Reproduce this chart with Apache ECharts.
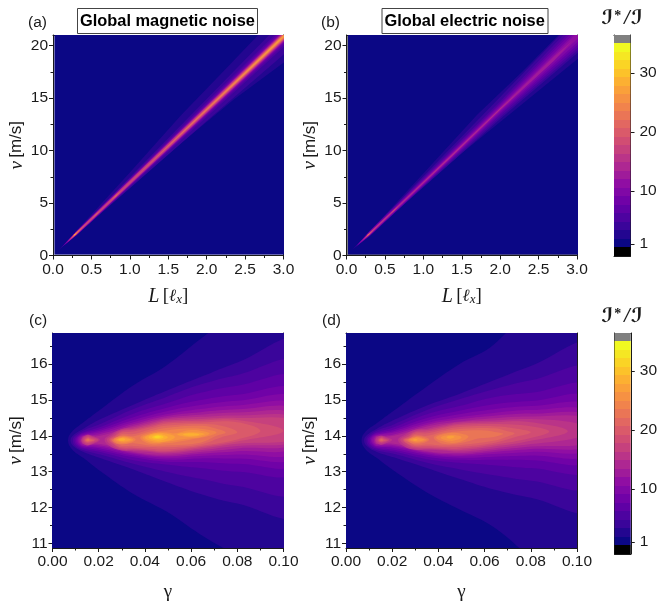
<!DOCTYPE html>
<html><head><meta charset="utf-8">
<style>html,body{margin:0;padding:0;background:#fff}#c{width:660px;height:603px}</style>
<script src="https://cdn.jsdelivr.net/npm/echarts@6/dist/echarts.min.js"></script>
</head><body><div id="c"></div>
<script>
// Colour levels of the filled contours (lowest band is the plot background)
const levelEdge0 = 0.45, levelEdge1 = 35;
const levelColors = ['#0b0785','#230690','#3a059a','#4d03a0','#5f01a5','#7002a7','#8008a6','#900ea3','#9f1b9a','#ae2792','#ba3488','#c6417d','#d14d73','#da5a6a','#e26761','#ea7556','#f1834c','#f69143','#faa03a','#fcb032','#fcc22a','#fad425','#f5e723','#f0f921'];
const belowColor = '#000000', aboveColor = '#808080';
const barTicks = [1,10,20,30];
const vTicksTop = [0,5,10,15,20], vMinorTop = [2.5,7.5,12.5,17.5];
const vTicksBottom = [11,12,13,14,15,16], vMinorBottom = [11.5,12.5,13.5,14.5,15.5,16.5];

// Panel (a): [band, outline in (L, v)]
const panelA = [
 [0,[[0.02,0.09],[3.2,0.09],[3.2,24],[0.02,24]]],
 [1,[[0.07,0.5],[0.5,3.9],[1,7.9],[1.66,13.3],[2.2,17.4],[2.67,21],[3.2,24.6],[3.2,19.6],[3,18.35],[2.35,14.83],[1.48,9.57],[1,6.5],[0.5,3.25]]],
 [2,[[0.08,0.56],[1,7.45],[2,14.9],[3.2,23.9],[3.2,20.4],[2,12.8],[1,6.4]]],
 [3,[[0.12,0.83],[0.3,2.3],[3.2,23.31],[3.2,21.17],[0.3,1.87]]],
 [4,[[0.13,0.9],[0.3,2.27],[3.2,23.09],[3.2,21.39],[0.3,1.9]]],
 [5,[[0.14,0.97],[0.3,2.25],[3.2,22.93],[3.2,21.55],[0.3,1.92]]],
 [6,[[0.15,1.04],[0.3,2.23],[3.2,22.84],[3.2,21.64],[0.3,1.94]]],
 [7,[[0.16,1.11],[0.3,2.21],[3.2,22.77],[3.2,21.71],[0.3,1.96]]],
 [8,[[0.18,1.25],[0.3,2.2],[3.2,22.72],[3.2,21.76],[0.3,1.97]]],
 [9,[[0.19,1.32],[0.3,2.19],[3.2,22.68],[3.2,21.8],[0.3,1.98]]],
 [10,[[0.2,1.39],[0.3,2.18],[3.2,22.63],[3.2,21.85],[0.3,1.99]]],
 [11,[[0.21,1.46],[0.3,2.17],[0.7,4.94],[3.2,22.59],[3.2,21.89],[0.7,4.79],[0.3,2.0]]],
 [12,[[0.22,1.53],[0.3,2.16],[0.48,3.38],[0.3,2.01]]],
 [12,[[0.72,5.0],[0.82,5.78],[0.92,6.39],[0.82,5.62]]],
 [12,[[0.95,6.6],[3.2,22.56],[3.2,21.92]]],
 [13,[[1.1,7.64],[3.2,22.53],[3.2,21.95]]],
 [13,[[0.23,1.6],[0.3,2.15],[0.42,2.95],[0.3,2.02]]],
 [14,[[1.35,9.38],[3.2,22.5],[3.2,21.98]]],
 [14,[[0.24,1.67],[0.3,2.14],[0.38,2.65],[0.3,2.03]]],
 [14,[[0.5,3.48],[0.56,3.95],[0.62,4.31],[0.56,3.85]]],
 [14,[[0.76,5.3],[0.82,5.75],[0.88,6.1],[0.82,5.65]]],
 [15,[[1.6,11.12],[3.2,22.45],[3.2,22.03]]],
 [15,[[0.25,1.74],[0.28,2],[0.35,2.48],[0.3,2.05]]],
 [16,[[1.9,13.2],[3.2,22.4],[3.2,22.08]]],
 [17,[[2.2,15.29],[3.2,22.36],[3.2,22.12]]],
 [17,[[0.26,1.81],[0.28,2.02],[0.32,2.24],[0.29,1.98]]],
 [18,[[2.5,17.38],[3.2,22.31],[3.2,22.17]]],
 [19,[[0.27,1.87],[0.285,2.02],[0.305,2.12],[0.29,1.99]]]
];

// Panel (b): [band, outline in (L, v)]
const panelB = [
 [0,[[0.02,0.09],[3.2,0.09],[3.2,24],[0.02,24]]],
 [1,[[0.07,0.5],[0.5,3.85],[1,7.8],[1.7,13.4],[2.3,17.6],[2.76,21],[3.2,24.4],[3.2,19.9],[3,18.66],[2.4,15.1],[1.5,9.75],[1,6.55],[0.5,3.25]]],
 [2,[[0.08,0.56],[1,7.55],[2,15.1],[3.2,24.2],[3.2,20.5],[2,13.0],[1,6.5]]],
 [3,[[0.12,0.83],[0.3,2.33],[1,7.4],[2,14.7],[3.2,23.9],[3.2,20.75],[2,13.2],[1,6.6],[0.3,1.84]]],
 [4,[[0.13,0.9],[0.3,2.3],[1,7.28],[2,14.5],[3.2,23.5],[3.2,21.0],[2,13.4],[1,6.65],[0.3,1.87]]],
 [5,[[0.14,0.97],[0.3,2.27],[1,7.2],[2,14.35],[3.2,23.2],[3.2,21.3],[2,13.55],[1,6.7],[0.3,1.9]]],
 [6,[[0.15,1.04],[0.3,2.24],[1,7.15],[2,14.22],[3.2,22.85],[3.2,21.6],[2,13.68],[1,6.75],[0.3,1.93]]],
 [7,[[0.17,1.18],[0.3,2.21],[1,7.08],[2,14.12],[3.0,21.2],[3.2,22.24],[3.0,20.6],[2,13.78],[1,6.82],[0.3,1.96]]],
 [8,[[0.19,1.32],[0.3,2.19],[1,7.03],[2,14.04],[2.7,18.95],[2.95,20.5],[2.7,18.55],[2,13.86],[1,6.87],[0.3,1.98]]],
 [9,[[0.2,1.39],[0.3,2.17],[0.6,4.25],[0.9,6.3],[1.4,9.8],[2,13.98],[2.45,17.03],[2,13.92],[1.4,9.65],[0.9,6.2],[0.6,4.1],[0.3,2.0]]],
 [10,[[1.7,11.81],[2,13.97],[2.25,15.64],[2,13.93]]],
 [10,[[0.21,1.46],[0.3,2.15],[0.5,3.55],[0.68,4.73],[0.5,3.42],[0.3,2.02]]],
 [12,[[0.22,1.53],[0.3,2.13],[0.42,2.98],[0.3,2.03]]],
 [12,[[0.56,3.9],[0.62,4.35],[0.68,4.73],[0.62,4.27]]],
 [14,[[0.24,1.67],[0.29,2.05],[0.35,2.44],[0.29,1.98]]],
 [17,[[0.26,1.81],[0.28,2.0],[0.31,2.16],[0.29,1.99]]]
];

// Panels (c) and (d): nested contours:
// band, tip gamma, tip v, [shoulder gamma, v up, v low], upper v and lower v at the gamma stations
const gammaStations = [0.0134,0.0206,0.035,0.049,0.064,0.08,0.106];
const panelCWedges = [
 [1,0.0067,13.88,[0.0085,14.12,13.62],[14.38,14.73,15.41,15.95,16.7,17.5,18.8],[13.38,13.02,12.38,11.9,11.25,10.65,9.7]],
 [2,0.0078,13.88,[0.0092,14.03,13.7],[14.2,14.46,14.87,15.25,15.64,16.05,16.6],[13.55,13.38,13.06,12.72,12.38,12.11,11.85]],
 [3,0.0088,13.88,[0.0098,14,13.72],[14.15,14.33,14.75,15.08,15.43,15.7,16],[13.6,13.48,13.22,13,12.8,12.6,12.48]],
 [4,0.0095,13.88,[0.0105,13.99,13.74],[14.1,14.25,14.62,14.9,15.2,15.4,15.58],[13.64,13.55,13.32,13.2,13.1,13,13.03]],
 [5,0.0102,13.88,[0.011,13.98,13.75],[14.07,14.19,14.52,14.78,15,15.15,15.25],[13.67,13.6,13.4,13.28,13.27,13.22,13.25]],
 [6,0.0108,13.88,[0.0115,13.98,13.77],[14.04,14.14,14.44,14.68,14.86,14.98,15.03],[13.7,13.65,13.45,13.34,13.37,13.37,13.43]],
 [7,0.0113,13.88,[0.012,13.97,13.78],[14.02,14.1,14.38,14.6,14.75,14.85,14.85],[13.72,13.69,13.49,13.39,13.44,13.48,13.56]],
 [8,0.012,13.88,[0.0125,13.96,13.79],[14,14.05,14.33,14.55,14.66,14.74,14.72],[13.75,13.73,13.52,13.43,13.5,13.57,13.7]],
 [9,0.0125,13.88,[0.0129,13.95,13.8],[13.98,14,14.28,14.5,14.59,14.65,14.6],[13.77,13.77,13.55,13.47,13.55,13.65,13.8]]
];
const panelCBlobs = [
 [10,[[0.0225,13.89],[0.025,14.03],[0.03,14.19],[0.035,14.24],[0.042,14.35],[0.049,14.46],[0.064,14.53],[0.08,14.57],[0.106,14.5],[0.106,13.87],[0.08,13.72],[0.064,13.6],[0.049,13.51],[0.042,13.55],[0.035,13.58],[0.03,13.59],[0.025,13.7]]],
 [10,[[0.0125,13.88],[0.0145,14.02],[0.0175,13.99],[0.0205,13.89],[0.0175,13.77],[0.0145,13.74]]],
 [11,[[0.0235,13.89],[0.026,14.02],[0.03,14.16],[0.035,14.2],[0.042,14.31],[0.049,14.42],[0.064,14.47],[0.08,14.5],[0.106,14.42],[0.106,13.93],[0.08,13.78],[0.064,13.64],[0.049,13.54],[0.042,13.58],[0.035,13.61],[0.03,13.62],[0.026,13.72]]],
 [11,[[0.013,13.88],[0.015,14],[0.0172,13.97],[0.0198,13.89],[0.0172,13.79],[0.015,13.76]]],
 [12,[[0.0245,13.89],[0.027,14.01],[0.03,14.13],[0.035,14.17],[0.042,14.27],[0.049,14.38],[0.064,14.42],[0.08,14.44],[0.1,14.14],[0.08,13.84],[0.064,13.68],[0.049,13.57],[0.042,13.6],[0.035,13.64],[0.03,13.65],[0.027,13.74]]],
 [12,[[0.0135,13.88],[0.015,13.97],[0.017,13.94],[0.0187,13.89],[0.017,13.82],[0.015,13.8]]],
 [13,[[0.025,13.89],[0.027,13.98],[0.03,14.09],[0.035,14.12],[0.042,14.23],[0.049,14.34],[0.064,14.37],[0.08,14.38],[0.09,14.14],[0.08,13.9],[0.064,13.72],[0.049,13.62],[0.042,13.64],[0.035,13.67],[0.03,13.68],[0.027,13.76]]],
 [13,[[0.014,13.88],[0.0152,13.95],[0.0166,13.92],[0.018,13.88],[0.0166,13.84],[0.0152,13.82]]],
 [14,[[0.0255,13.89],[0.028,13.96],[0.03,14.05],[0.035,14.05],[0.042,14.18],[0.049,14.28],[0.064,14.33],[0.074,14.27],[0.08,14.1],[0.074,13.98],[0.064,13.76],[0.049,13.68],[0.042,13.69],[0.035,13.72],[0.03,13.72],[0.028,13.78]]],
 [14,[[0.0143,13.88],[0.0153,13.93],[0.0163,13.9],[0.0172,13.88],[0.0163,13.86],[0.0153,13.84]]],
 [15,[[0.026,13.89],[0.03,14.01],[0.035,13.99],[0.042,14.12],[0.049,14.22],[0.064,14.28],[0.071,14.2],[0.075,14.09],[0.071,14],[0.064,13.81],[0.049,13.73],[0.042,13.73],[0.035,13.79],[0.03,13.76],[0.027,13.8]]],
 [15,[[0.0148,13.88],[0.0154,13.91],[0.016,13.88],[0.0154,13.86]]],
 [16,[[0.0265,13.89],[0.028,13.96],[0.03,13.99],[0.034,13.97],[0.036,13.9],[0.034,13.81],[0.03,13.78],[0.028,13.8]]],
 [16,[[0.038,13.95],[0.042,14.08],[0.049,14.15],[0.06,14.21],[0.068,14.16],[0.071,14.09],[0.068,14],[0.06,13.9],[0.049,13.79],[0.042,13.78]]],
 [17,[[0.0272,13.89],[0.03,13.97],[0.033,13.95],[0.035,13.89],[0.033,13.83],[0.03,13.81]]],
 [17,[[0.039,13.95],[0.043,14.06],[0.049,14.1],[0.053,14.07],[0.06,14.16],[0.066,14.12],[0.068,14.06],[0.064,13.96],[0.06,13.93],[0.053,13.87],[0.049,13.83],[0.043,13.81]]],
 [18,[[0.0278,13.89],[0.03,13.95],[0.032,13.93],[0.034,13.89],[0.032,13.85],[0.03,13.84]]],
 [18,[[0.04,13.95],[0.045,14.08],[0.05,14.05],[0.053,13.97],[0.05,13.86],[0.045,13.83]]],
 [18,[[0.054,14.04],[0.06,14.1],[0.066,14.05],[0.06,13.97]]],
 [19,[[0.0285,13.89],[0.03,13.93],[0.0315,13.9],[0.03,13.86]]],
 [19,[[0.0415,13.96],[0.045,14.05],[0.0485,14.02],[0.05,13.96],[0.048,13.89],[0.045,13.87]]],
 [19,[[0.0565,14.04],[0.06,14.07],[0.0635,14.04],[0.06,14]]],
 [20,[[0.043,13.96],[0.045,14.02],[0.0475,14],[0.048,13.95],[0.045,13.91]]],
 [21,[[0.044,13.97],[0.0455,14],[0.047,13.97],[0.045,13.94]]]
];
const panelDWedges = [
 [1,0.0067,13.88,[0.0085,14.12,13.62],[14.36,14.7,15.38,16,16.55,17.7,19.6],[13.38,13.03,12.42,11.95,11.45,10.6,9.3]],
 [2,0.0078,13.88,[0.0092,14.03,13.7],[14.2,14.44,14.85,15.17,15.55,15.95,16.5],[13.55,13.4,13.1,12.8,12.5,12.27,12]],
 [3,0.0088,13.88,[0.0098,14,13.72],[14.15,14.32,14.72,15.02,15.3,15.55,15.83],[13.6,13.5,13.25,13.07,12.9,12.75,12.65]],
 [4,0.0095,13.88,[0.0105,13.99,13.74],[14.1,14.24,14.6,14.83,15.08,15.2,15.35],[13.64,13.56,13.35,13.25,13.18,13.1,13.08]],
 [5,0.0102,13.88,[0.011,13.98,13.75],[14.07,14.18,14.5,14.7,14.88,14.97,15.05],[13.67,13.61,13.42,13.33,13.33,13.32,13.33]],
 [6,0.0108,13.88,[0.0115,13.98,13.77],[14.04,14.13,14.42,14.6,14.74,14.83,14.82],[13.7,13.66,13.47,13.39,13.42,13.45,13.5]],
 [7,0.0113,13.88,[0.012,13.97,13.78],[14.02,14.09,14.36,14.52,14.64,14.72,14.66],[13.72,13.7,13.51,13.44,13.49,13.55,13.64]],
 [8,0.012,13.88,[0.0125,13.96,13.79],[14,14.04,14.31,14.46,14.56,14.62,14.55],[13.75,13.74,13.54,13.48,13.55,13.63,13.75]],
 [9,0.0125,13.88,[0.0129,13.95,13.8],[13.98,14,14.26,14.4,14.49,14.54,14.46],[13.77,13.78,13.57,13.52,13.6,13.7,13.85]]
];
const panelDBlobs = [
 [10,[[0.0225,13.89],[0.025,14.02],[0.03,14.17],[0.035,14.2],[0.042,14.3],[0.049,14.38],[0.064,14.43],[0.08,14.47],[0.1,14.35],[0.104,14.14],[0.1,13.95],[0.08,13.77],[0.064,13.65],[0.049,13.56],[0.042,13.59],[0.035,13.61],[0.03,13.61],[0.025,13.71]]],
 [10,[[0.0128,13.88],[0.0147,14],[0.0172,13.97],[0.02,13.89],[0.0172,13.79],[0.0147,13.76]]],
 [11,[[0.0235,13.89],[0.026,14],[0.03,14.13],[0.035,14.16],[0.042,14.26],[0.049,14.34],[0.064,14.38],[0.08,14.38],[0.096,14.13],[0.08,13.86],[0.064,13.7],[0.049,13.6],[0.042,13.62],[0.035,13.64],[0.03,13.65],[0.026,13.73]]],
 [11,[[0.0135,13.88],[0.015,13.97],[0.017,13.94],[0.0187,13.89],[0.017,13.82],[0.015,13.8]]],
 [12,[[0.0245,13.89],[0.027,13.98],[0.03,14.1],[0.035,14.12],[0.042,14.22],[0.049,14.3],[0.064,14.33],[0.08,14.27],[0.088,14.12],[0.08,13.94],[0.064,13.75],[0.049,13.64],[0.042,13.65],[0.035,13.67],[0.03,13.68],[0.027,13.75]]],
 [12,[[0.014,13.88],[0.0152,13.95],[0.0166,13.92],[0.018,13.88],[0.0166,13.84],[0.0152,13.82]]],
 [13,[[0.025,13.89],[0.027,13.96],[0.03,14.06],[0.035,14.07],[0.042,14.17],[0.049,14.25],[0.064,14.27],[0.074,14.2],[0.08,14.1],[0.074,13.98],[0.064,13.8],[0.049,13.69],[0.042,13.69],[0.035,13.71],[0.03,13.71],[0.027,13.77]]],
 [13,[[0.0143,13.88],[0.0153,13.93],[0.0163,13.9],[0.0172,13.88],[0.0163,13.86],[0.0153,13.84]]],
 [14,[[0.0255,13.89],[0.028,13.95],[0.03,14.03],[0.035,14],[0.042,14.12],[0.049,14.19],[0.064,14.21],[0.07,14.13],[0.073,14.07],[0.07,13.98],[0.064,13.86],[0.049,13.74],[0.042,13.73],[0.035,13.76],[0.03,13.74],[0.028,13.8]]],
 [14,[[0.0148,13.88],[0.0154,13.91],[0.016,13.88],[0.0154,13.86]]],
 [15,[[0.0265,13.89],[0.028,13.95],[0.03,13.99],[0.034,13.97],[0.036,13.9],[0.034,13.81],[0.03,13.78],[0.028,13.8]]],
 [15,[[0.038,13.95],[0.042,14.07],[0.049,14.13],[0.06,14.15],[0.066,14.09],[0.068,14.05],[0.064,13.97],[0.058,13.93],[0.049,13.79],[0.042,13.78]]],
 [16,[[0.0272,13.89],[0.03,13.97],[0.033,13.95],[0.035,13.89],[0.033,13.83],[0.03,13.81]]],
 [16,[[0.039,13.95],[0.045,14.08],[0.05,14.06],[0.053,13.98],[0.05,13.85],[0.045,13.81]]],
 [17,[[0.0278,13.89],[0.03,13.95],[0.032,13.93],[0.034,13.89],[0.032,13.85],[0.03,13.84]]],
 [17,[[0.041,13.95],[0.045,14.03],[0.049,14],[0.05,13.95],[0.048,13.89],[0.045,13.86]]],
 [18,[[0.0435,13.96],[0.045,14],[0.047,13.97],[0.045,13.92]]],
 [18,[[0.029,13.89],[0.03,13.92],[0.031,13.89],[0.03,13.86]]]
];
const gammaBackground = [0,[[-0.02,8],[0.13,8],[0.13,20],[-0.02,20]]];

function wedgeOutline(w){
  const up = gammaStations.map((g,i)=>[g,w[4][i]]);
  const low = gammaStations.map((g,i)=>[g,w[5][i]]).reverse();
  return [w[0],[[w[1],w[2]],[w[3][0],w[3][1]],...up,...low,[w[3][0],w[3][2]]]];
}
const panelC = [gammaBackground].concat(panelCWedges.map(wedgeOutline),panelCBlobs);
const panelD = [gammaBackground].concat(panelDWedges.map(wedgeOutline),panelDBlobs);

const SANS = '"Liberation Sans",Arial,sans-serif', SERIF = '"Liberation Serif","DejaVu Serif",serif';
const INK = '#1a1a1a';

const grids = [
 {left:53,top:35,width:230.5,height:220.5,show:true,borderWidth:0,backgroundColor:'#c4c4dc'},
 {left:346.5,top:35,width:230.5,height:220.5,show:true,borderWidth:0,backgroundColor:'#7c7c84'},
 {left:52.5,top:333,width:231,height:221},
 {left:346,top:333,width:231,height:221},
 {left:614,top:35,width:16.5,height:221},
 {left:614.5,top:333,width:16.5,height:221}
];
const xAxis=[], yAxis=[], series=[];
const line = {show:true,onZero:false,lineStyle:{color:INK,width:1}};
const tick = {show:true,length:4,lineStyle:{color:INK,width:1}};
const minor = {show:true,length:2.5,lineStyle:{color:INK,width:1}};
const vName = {name:'{i|v} {n|[m/s]}',nameLocation:'middle',nameGap:27,nameRotate:90,
  nameTextStyle:{rich:{i:{fontFamily:SERIF,fontStyle:'italic',fontSize:19,color:INK},n:{fontFamily:SANS,fontSize:17,color:INK}}}};
const lName = {name:'{i|L} {n|[}{l|ℓ}{s|x}{n|]}',nameLocation:'middle',nameGap:31,
  nameTextStyle:{rich:{i:{fontFamily:SERIF,fontStyle:'italic',fontSize:20,color:INK},n:{fontFamily:SERIF,fontSize:19,color:INK},l:{fontFamily:'"DejaVu Serif"',fontStyle:'italic',fontSize:17,color:INK},s:{fontFamily:SERIF,fontStyle:'italic',fontSize:13,padding:[7,0,0,0],color:INK}}}};
const gName = {name:'γ',nameLocation:'middle',nameGap:35,nameTextStyle:{fontFamily:SERIF,fontSize:19,color:INK}};

function addPanel(g, contours, xmin, xmax, xInterval, xDec, xn, ymin, ymax, vT, vM, smooth){
  const xi = xAxis.length, yi = yAxis.length;
  xAxis.push(Object.assign({type:'value',gridIndex:g,position:'bottom',min:xmin,max:xmax,interval:xInterval,axisLine:line,axisTick:tick,
    minorTick:Object.assign({splitNumber:2},minor),splitLine:{show:false},minorSplitLine:{show:false},
    axisLabel:{margin:6,fontFamily:SANS,fontSize:15.5,color:INK,formatter:v=>v.toFixed(xDec),hideOverlap:false}},xn));
  xAxis.push({type:'value',gridIndex:g,position:'top',min:xmin,max:xmax,axisLine:line,axisTick:{show:false},axisLabel:{show:false},splitLine:{show:false}});
  yAxis.push(Object.assign({type:'value',gridIndex:g,position:'left',min:ymin,max:ymax,axisLine:line,
    axisTick:Object.assign({customValues:vT},tick),splitLine:{show:false},
    axisLabel:{customValues:vT,margin:5,fontFamily:SANS,fontSize:15.5,color:INK}},vName));
  yAxis.push({type:'value',gridIndex:g,position:'left',min:ymin,max:ymax,axisLine:{show:false},
    axisTick:Object.assign({customValues:vM},minor),axisLabel:{show:false},splitLine:{show:false}});
  yAxis.push({type:'value',gridIndex:g,position:'right',min:ymin,max:ymax,axisLine:line,axisTick:{show:false},axisLabel:{show:false},splitLine:{show:false}});
  series.push({type:'custom',coordinateSystem:'cartesian2d',xAxisIndex:xi,yAxisIndex:yi,clip:true,silent:true,animation:false,
    data:contours.map(c=>c[0]),
    renderItem:(p,api)=>({type:'polygon',shape:{points:contours[p.dataIndex][1].map(q=>api.coord(q)),smooth:smooth},style:{fill:levelColors[contours[p.dataIndex][0]]}})});
}
addPanel(0,panelA,0,3,0.5,1,lName,0,21,vTicksTop,vMinorTop,0);
addPanel(1,panelB,0,3,0.5,1,lName,0,21,vTicksTop,vMinorTop,0);
addPanel(2,panelC,0,0.1,0.02,2,gName,10.87,16.87,vTicksBottom,vMinorBottom,0.4);
addPanel(3,panelD,0,0.1,0.02,2,gName,10.87,16.87,vTicksBottom,vMinorBottom,0.4);

const step = (levelEdge1-levelEdge0)/levelColors.length;
const barBands = [[-1,levelEdge0,belowColor]]
  .concat(levelColors.map((c,i)=>[levelEdge0+i*step,levelEdge0+(i+1)*step,c]))
  .concat([[levelEdge1,36.44,aboveColor]]);
[4,5].forEach(g=>{
  const xi=xAxis.length, yi=yAxis.length;
  xAxis.push({type:'value',gridIndex:g,position:'bottom',min:0,max:1,axisLine:line,axisTick:{show:false},axisLabel:{show:false},splitLine:{show:false}});
  xAxis.push({type:'value',gridIndex:g,position:'top',min:0,max:1,axisLine:line,axisTick:{show:false},axisLabel:{show:false},splitLine:{show:false}});
  yAxis.push({type:'value',gridIndex:g,position:'left',min:-1,max:36.44,axisLine:line,axisTick:{show:false},axisLabel:{show:false},splitLine:{show:false}});
  yAxis.push({type:'value',gridIndex:g,position:'right',min:-1,max:36.44,axisLine:line,splitLine:{show:false},
    axisTick:Object.assign({customValues:barTicks},tick),
    axisLabel:{customValues:barTicks,margin:9,fontFamily:SANS,fontSize:15.5,color:INK}});
  series.push({type:'custom',coordinateSystem:'cartesian2d',xAxisIndex:xi,yAxisIndex:yi,clip:true,silent:true,animation:false,
    data:barBands.map(b=>b[0]),
    renderItem:(p,api)=>{const b=barBands[p.dataIndex],a=api.coord([0,b[1]]),e=api.coord([1,b[0]]);
      const y0=Math.round(a[1]),y1=Math.round(e[1]);
      return {type:'rect',shape:{x:a[0],y:y0,width:e[0]-a[0],height:y1-y0},style:{fill:b[2]}};}});
});

const labelStyle = {fontFamily:SANS,fontSize:15.5,fontWeight:'normal',color:INK};
const boxStyle = {fontFamily:SANS,fontSize:16.4,fontWeight:'bold',color:'#000'};
const barTitle = {fontFamily:SERIF,color:INK,rich:{s:{fontFamily:'"DejaVu Serif","DejaVu Sans"',fontSize:20,color:INK},a:{fontFamily:SERIF,fontSize:14,color:INK,padding:[0,2,6,1]},m:{fontFamily:SERIF,fontStyle:'italic',fontSize:20,color:INK,padding:[0,1,0,1]}}};
const title = [
 {text:'(a)',left:28,top:15,padding:0,textStyle:labelStyle},
 {text:'(b)',left:321,top:15,padding:0,textStyle:labelStyle},
 {text:'(c)',left:29,top:313,padding:0,textStyle:labelStyle},
 {text:'(d)',left:322,top:313,padding:0,textStyle:labelStyle},
 {text:'Global magnetic noise',left:77,top:8.5,padding:[4.5,3,4.5,3],borderColor:'#444',borderWidth:1,backgroundColor:'#fff',textStyle:boxStyle},
 {text:'Global electric noise',left:381.5,top:8.5,padding:[4.5,3,4.5,3],borderColor:'#444',borderWidth:1,backgroundColor:'#fff',textStyle:boxStyle},
 {text:'{s|ℐ}{a|*}{m|/}{s|ℐ}',left:622,textAlign:'center',top:9,padding:0,textStyle:barTitle},
 {text:'{s|ℐ}{a|*}{m|/}{s|ℐ}',left:622,textAlign:'center',top:307,padding:0,textStyle:barTitle}
];

const chart = echarts.init(document.getElementById('c'),null,{renderer:'canvas'});
chart.setOption({animation:false,backgroundColor:'#fff',title,grid:grids,xAxis,yAxis,series});
</script></body></html>
